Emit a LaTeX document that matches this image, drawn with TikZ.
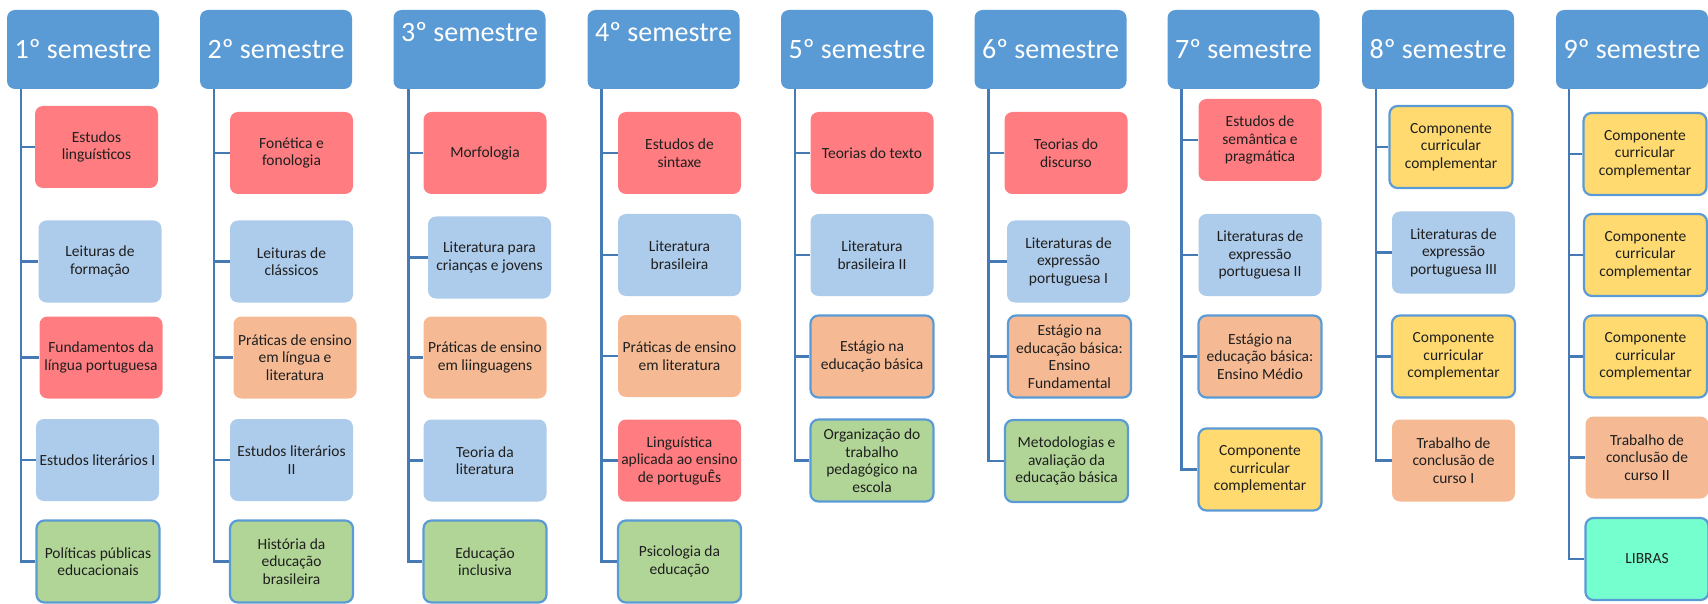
\documentclass[tikz,border=0pt]{standalone}
\usepackage{fontspec}
\setmainfont{Carlito}
\definecolor{headblue}{RGB}{91,155,213}
\definecolor{spineblue}{RGB}{70,122,180}
\definecolor{rosered}{RGB}{255,124,128}
\definecolor{skyblue}{RGB}{173,203,234}
\definecolor{peach}{RGB}{245,186,148}
\definecolor{leafgreen}{RGB}{177,213,151}
\definecolor{sunyellow}{RGB}{255,218,112}
\definecolor{mint}{RGB}{117,255,207}
\usetikzlibrary{calc}
\tikzset{
  semhead/.style={rectangle, fill=headblue, rounded corners=8pt, minimum width=152pt, minimum height=79pt, inner sep=0pt, text=white, font=\fontsize{28}{30}\selectfont, text height=19pt, text depth=0pt},
  course/.style={rectangle, fill=#1, rounded corners=8pt, minimum width=123pt, minimum height=82pt, inner sep=2pt, align=center, text=black!88, font=\fontsize{15.5}{17.5}\selectfont},
  rimmed/.style={course=#1, draw=headblue, line width=2.2pt},
  spine/.style={draw=spineblue, line width=2.4pt},
}

\begin{document}
\begin{tikzpicture}[x=1pt, y=-1pt]
\useasboundingbox (0,0) rectangle (1708,604);

\node[semhead] (s1) at (83,49.5) {1º semestre};
\node[semhead] (s2) at (276,49.5) {2º semestre};
\node[semhead, text depth=34pt] (s3) at (469.5,49.5) {3º semestre};
\node[semhead, text depth=34pt] (s4) at (663.5,49.5) {4º semestre};
\node[semhead] (s5) at (857,49.5) {5º semestre};
\node[semhead] (s6) at (1050.5,49.5) {6º semestre};
\node[semhead] (s7) at (1243.5,49.5) {7º semestre};
\node[semhead] (s8) at (1438,49.5) {8º semestre};
\node[semhead] (s9) at (1632,49.5) {9º semestre};

\node[course=rosered] (c11) at (96.5,147) {Estudos\\linguísticos};
\node[course=skyblue] (c12) at (100,261.5) {Leituras de\\formação};
\node[course=rosered] (c13) at (101,357.5) {Fundamentos da\\língua portuguesa};
\node[course=skyblue] (c14) at (97.5,460) {Estudos literários I};
\node[rimmed=leafgreen] (c15) at (98,561.5) {Políticas públicas\\educacionais};

\node[course=rosered] (c21) at (291.5,153) {Fonética e\\fonologia};
\node[course=skyblue] (c22) at (291.5,261.5) {Leituras de\\clássicos};
\node[course=peach] (c23) at (295,357.5) {Práticas de ensino\\em língua e\\literatura};
\node[course=skyblue] (c24) at (291.5,460) {Estudos literários\\II};
\node[rimmed=leafgreen] (c25) at (291.5,561.5) {História da\\educação\\brasileira};

\node[course=rosered] (c31) at (485,153) {Morfologia};
\node[course=skyblue] (c32) at (489.5,257.5) {Literatura para\\crianças e jovens};
\node[course=peach] (c33) at (485,357.5) {Práticas de ensino\\em liinguagens};
\node[course=skyblue] (c34) at (485,460.5) {Teoria da\\literatura};
\node[rimmed=leafgreen] (c35) at (485,561.5) {Educação\\inclusiva};

\node[course=rosered] (c41) at (679.5,153) {Estudos de\\sintaxe};
\node[course=skyblue] (c42) at (679.5,255) {Literatura\\brasileira};
\node[course=peach] (c43) at (679.5,356) {Práticas de ensino\\em literatura};
\node[course=rosered] (c44) at (679.5,460.5) {Linguística\\aplicada ao ensino\\de portuguÊs};
\node[rimmed=leafgreen] (c45) at (679.5,561.5) {Psicologia da\\educação};

\node[course=rosered] (c51) at (872,153) {Teorias do texto};
\node[course=skyblue] (c52) at (872,255) {Literatura\\brasileira II};
\node[rimmed=peach] (c53) at (872,356.5) {Estágio na\\educação básica};
\node[rimmed=leafgreen] (c54) at (872,460.5) {Organização do\\trabalho\\pedagógico na\\escola};

\node[course=rosered] (c61) at (1066,153) {Teorias do\\discurso};
\node[course=skyblue] (c62) at (1068.5,261.5) {Literaturas de\\expressão\\portuguesa I};
\node[rimmed=peach] (c63) at (1069.5,356.5) {Estágio na\\educação básica:\\Ensino\\Fundamental};
\node[rimmed=leafgreen] (c64) at (1066.5,461) {Metodologias e\\avaliação da\\educação básica};

\node[course=rosered] (c71) at (1260,140) {Estudos de\\semântica e\\pragmática};
\node[course=skyblue] (c72) at (1260,255) {Literaturas de\\expressão\\portuguesa II};
\node[rimmed=peach] (c73) at (1260,356.5) {Estágio na\\educação básica:\\Ensino Médio};
\node[rimmed=sunyellow] (c74) at (1260,469.5) {Componente\\curricular\\complementar};

\node[rimmed=sunyellow] (c81) at (1451,147) {Componente\\curricular\\complementar};
\node[course=skyblue] (c82) at (1453.5,252.5) {Literaturas de\\expressão\\portuguesa III};
\node[rimmed=sunyellow] (c83) at (1453.5,356.5) {Componente\\curricular\\complementar};
\node[course=peach] (c84) at (1453.5,460.5) {Trabalho de\\conclusão de\\curso I};

\node[rimmed=sunyellow] (c91) at (1645,154) {Componente\\curricular\\complementar};
\node[rimmed=sunyellow] (c92) at (1645.5,255) {Componente\\curricular\\complementar};
\node[rimmed=sunyellow] (c93) at (1645.5,356.5) {Componente\\curricular\\complementar};
\node[course=peach] (c94) at (1647,457.5) {Trabalho de\\conclusão de\\curso II};
\node[rimmed=mint] (c95) at (1647,559) {LIBRAS};

\draw[spine] ($(s1.south west)+(14,0)$) |- (c11.west);
\draw[spine] ($(s1.south west)+(14,0)$) |- (c12.west);
\draw[spine] ($(s1.south west)+(14,0)$) |- (c13.west);
\draw[spine] ($(s1.south west)+(14,0)$) |- (c14.west);
\draw[spine] ($(s1.south west)+(14,0)$) |- (c15.west);

\draw[spine] ($(s2.south west)+(14,0)$) |- (c21.west);
\draw[spine] ($(s2.south west)+(14,0)$) |- (c22.west);
\draw[spine] ($(s2.south west)+(14,0)$) |- (c23.west);
\draw[spine] ($(s2.south west)+(14,0)$) |- (c24.west);
\draw[spine] ($(s2.south west)+(14,0)$) |- (c25.west);

\draw[spine] ($(s3.south west)+(15,0)$) |- (c31.west);
\draw[spine] ($(s3.south west)+(15,0)$) |- (c32.west);
\draw[spine] ($(s3.south west)+(15,0)$) |- (c33.west);
\draw[spine] ($(s3.south west)+(15,0)$) |- (c34.west);
\draw[spine] ($(s3.south west)+(15,0)$) |- (c35.west);

\draw[spine] ($(s4.south west)+(14,0)$) |- (c41.west);
\draw[spine] ($(s4.south west)+(14,0)$) |- (c42.west);
\draw[spine] ($(s4.south west)+(14,0)$) |- (c43.west);
\draw[spine] ($(s4.south west)+(14,0)$) |- (c44.west);
\draw[spine] ($(s4.south west)+(14,0)$) |- (c45.west);

\draw[spine] ($(s5.south west)+(14,0)$) |- (c51.west);
\draw[spine] ($(s5.south west)+(14,0)$) |- (c52.west);
\draw[spine] ($(s5.south west)+(14,0)$) |- (c53.west);
\draw[spine] ($(s5.south west)+(14,0)$) |- (c54.west);

\draw[spine] ($(s6.south west)+(14,0)$) |- (c61.west);
\draw[spine] ($(s6.south west)+(14,0)$) |- (c62.west);
\draw[spine] ($(s6.south west)+(14,0)$) |- (c63.west);
\draw[spine] ($(s6.south west)+(14,0)$) |- (c64.west);

\draw[spine] ($(s7.south west)+(14,0)$) |- (c71.west);
\draw[spine] ($(s7.south west)+(14,0)$) |- (c72.west);
\draw[spine] ($(s7.south west)+(14,0)$) |- (c73.west);
\draw[spine] ($(s7.south west)+(14,0)$) |- (c74.west);

\draw[spine] ($(s8.south west)+(14,0)$) |- (c81.west);
\draw[spine] ($(s8.south west)+(14,0)$) |- (c82.west);
\draw[spine] ($(s8.south west)+(14,0)$) |- (c83.west);
\draw[spine] ($(s8.south west)+(14,0)$) |- (c84.west);

\draw[spine] ($(s9.south west)+(13,0)$) |- (c91.west);
\draw[spine] ($(s9.south west)+(13,0)$) |- (c92.west);
\draw[spine] ($(s9.south west)+(13,0)$) |- (c93.west);
\draw[spine] ($(s9.south west)+(13,0)$) |- (c94.west);
\draw[spine] ($(s9.south west)+(13,0)$) |- (c95.west);
\end{tikzpicture}
\end{document}
